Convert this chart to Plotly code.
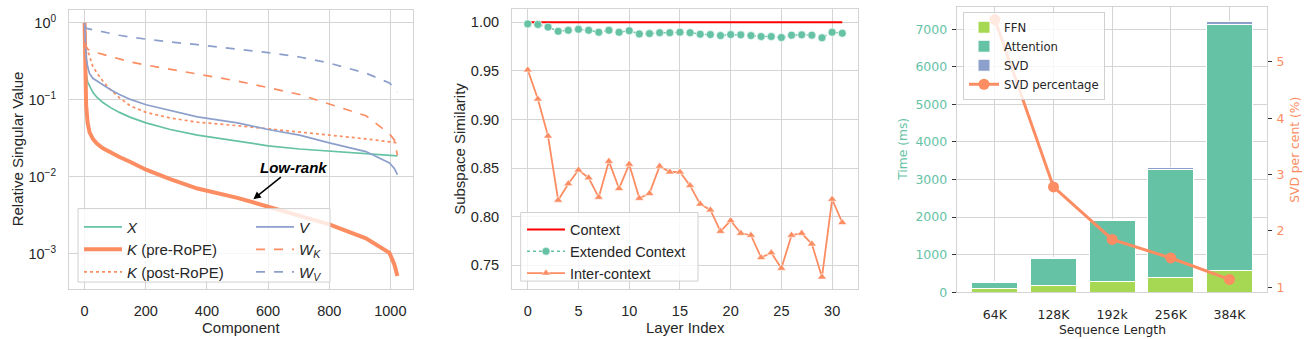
import math
import plotly.graph_objects as go

W, H = 1306, 339

# ---------------- Panel 1: singular value spectra ----------------
comp = [0, 2, 5, 10, 16, 27, 40, 60, 85, 114, 150, 201, 280, 369, 500, 600, 703, 800,
        920, 997, 1013, 1023]
sv_x = [1.0, 0.40, 0.22, 0.17, 0.15, 0.125, 0.108, 0.092, 0.079, 0.0685, 0.059, 0.050,
        0.041, 0.0346, 0.029, 0.0252, 0.0229, 0.0216, 0.0200, 0.0191, 0.0188, 0.0186]
sv_k_pre = [1.0, 0.25, 0.085, 0.050, 0.038, 0.031, 0.027, 0.0234, 0.0205, 0.018, 0.0155,
            0.0123, 0.0093, 0.0070, 0.0053, 0.0041, 0.0031, 0.0024, 0.00158, 0.00102,
            0.00072, 0.00051]
sv_k_post = [1.0, 0.62, 0.50, 0.44, 0.36, 0.27, 0.225, 0.174, 0.135, 0.106, 0.083, 0.0685,
             0.058, 0.051, 0.046, 0.0420, 0.038, 0.035, 0.031, 0.0284, 0.0278, 0.0275]
sv_v = [1.0, 0.55, 0.36, 0.27, 0.22, 0.19, 0.175, 0.157, 0.135, 0.117, 0.101, 0.086,
        0.072, 0.060, 0.050, 0.041, 0.0346, 0.0275, 0.0212, 0.0151, 0.0128, 0.0106]
sv_wk = [0.55, 0.50, 0.48, 0.46, 0.44, 0.42, 0.41, 0.39, 0.365, 0.34, 0.31, 0.283,
         0.25, 0.215, 0.175, 0.144, 0.117, 0.088, 0.062, 0.036, 0.030, 0.019]
sv_wv = [0.92, 0.88, 0.86, 0.84, 0.83, 0.81, 0.79, 0.76, 0.725, 0.69, 0.65, 0.61,
         0.565, 0.52, 0.46, 0.41, 0.36, 0.30, 0.222, 0.165, 0.145, 0.126]
sv_ticks = [1, 0.1, 0.01, 0.001]
sv_ticktext = ["10<sup>0</sup>", "10<sup>\u22121</sup>", "10<sup>\u22122</sup>", "10<sup>\u22123</sup>"]
lowrank_comp, lowrank_val = 552, 0.0051

# ---------------- Panel 2: subspace similarity per layer ----------------
layers = list(range(32))
sim_context = [1.00, 1.00, 1.00, 1.00, 1.00, 1.00, 1.00, 1.00, 1.00, 1.00, 1.00, 1.00,
               1.00, 1.00, 1.00, 1.00, 1.00, 1.00, 1.00, 1.00, 1.00, 1.00, 1.00, 1.00,
               1.00, 1.00, 1.00, 1.00, 1.00, 1.00, 1.00, 1.00]
sim_extended = [0.9983, 0.9977, 0.9950, 0.9907, 0.9917, 0.9927, 0.9917, 0.9897, 0.9917, 0.9897,
                0.9913, 0.9880, 0.9883, 0.9893, 0.9893, 0.9897, 0.9893, 0.9877, 0.9873, 0.9863,
                0.9873, 0.9870, 0.9863, 0.9853, 0.9853, 0.9843, 0.9867, 0.9870, 0.9867, 0.9840,
                0.9897, 0.9887]
sim_inter = [0.951, 0.921, 0.883, 0.817, 0.834, 0.848, 0.840, 0.820, 0.857, 0.829,
             0.854, 0.819, 0.824, 0.852, 0.846, 0.846, 0.832, 0.813, 0.807, 0.785,
             0.796, 0.783, 0.781, 0.758, 0.763, 0.747, 0.781, 0.783, 0.772, 0.738,
             0.818, 0.794]

# ---------------- Panel 3: timing breakdown ----------------
seq_labels = ["64K", "128K", "192k", "256K", "384K"]
ffn_ms = [87, 190, 287, 391, 583]
attn_ms = [174, 705, 1609, 2870, 6547]
svd_ms = [16, 25, 35, 48, 79]
svd_pct = [5.75, 2.78, 1.85, 1.52, 1.14]

TEAL, ORANGE, BLUE, LIME = "#66c2a5", "#fc8d62", "#8da0cb", "#a6d854"
GRID = "#d4d4d4"
FRAME = "#d0d0d0"
TXT = "#262626"
ARIAL = "Liberation Sans, Arial, sans-serif"
DEJAVU = "DejaVu Sans, sans-serif"


def px_x(p):
    return p / W


def px_y(p):
    return 1 - p / H


fig = go.Figure()

# spectra
spectra = [
    ("<i>X</i>", sv_x, dict(color=TEAL, width=1.7), "legend", 1),
    ("<i>K</i> (pre-RoPE)", sv_k_pre, dict(color=ORANGE, width=4), "legend", 2),
    ("<i>K</i> (post-RoPE)", sv_k_post, dict(color=ORANGE, width=1.7, dash="dot"), "legend", 3),
    ("<i>V</i>", sv_v, dict(color=BLUE, width=1.7), "legend4", 1),
    ("<i>W</i><sub><i>K</i></sub>", sv_wk, dict(color=ORANGE, width=1.7, dash="dash"), "legend4", 2),
    ("<i>W</i><sub><i>V</i></sub>", sv_wv, dict(color=BLUE, width=1.7, dash="dash"), "legend4", 3),
]
for name, vals, line, leg, rank in spectra:
    fig.add_trace(go.Scatter(
        x=comp, y=vals, mode="lines", name=name, line=dict(shape="linear", **line),
        xaxis="x", yaxis="y", legend=leg, legendrank=rank,
    ))

# similarity
fig.add_trace(go.Scatter(x=layers, y=sim_context, mode="lines", name="Context",
                         line=dict(color="red", width=2), xaxis="x2", yaxis="y2", legend="legend2"))
fig.add_trace(go.Scatter(x=layers, y=sim_extended, mode="lines+markers", name="Extended Context",
                         line=dict(color=TEAL, width=1.5, dash="dot"),
                         marker=dict(symbol="circle", size=8, color=TEAL, line=dict(color="white", width=0.6)),
                         xaxis="x2", yaxis="y2", legend="legend2"))
fig.add_trace(go.Scatter(x=layers, y=sim_inter, mode="lines+markers", name="Inter-context",
                         line=dict(color=ORANGE, width=1.8),
                         marker=dict(symbol="triangle-up", size=8, color=ORANGE, line=dict(color="white", width=0.6)),
                         xaxis="x2", yaxis="y2", legend="legend2"))

# timing
for name, vals, col in [("FFN", ffn_ms, LIME), ("Attention", attn_ms, TEAL), ("SVD", svd_ms, BLUE)]:
    fig.add_trace(go.Bar(x=seq_labels, y=vals, name=name, width=0.78,
                         marker=dict(color=col, line=dict(color="white", width=1)),
                         xaxis="x3", yaxis="y3", legend="legend3"))
fig.add_trace(go.Scatter(x=seq_labels, y=svd_pct, mode="lines+markers", name="SVD percentage",
                         line=dict(color=ORANGE, width=3),
                         marker=dict(size=11, color=ORANGE),
                         xaxis="x3", yaxis="y4", legend="legend3"))

common = dict(showgrid=True, gridcolor=GRID, gridwidth=1, zeroline=False,
              showline=True, linecolor=GRID, linewidth=1, mirror=True)

fig.update_layout(
    width=W, height=H, margin=dict(l=0, r=0, t=0, b=0),
    paper_bgcolor="white", plot_bgcolor="white",
    barmode="stack", bargap=0.22,
    font=dict(family=ARIAL, color=TXT, size=14),
    xaxis=dict(domain=[px_x(69), px_x(413)], range=[-51, 1074], anchor="y",
               tickvals=[0, 200, 400, 600, 800, 1000], ticks="", ticklabelstandoff=9,
               tickfont=dict(size=14.5, color=TXT), **common),
    yaxis=dict(domain=[px_y(295), px_y(10)], type="log", range=[-3.46, 0.17], anchor="x",
               tickvals=sv_ticks, ticktext=sv_ticktext, ticks="", ticklabelstandoff=9,
               tickfont=dict(size=14.5, color=TXT), **common),
    xaxis2=dict(domain=[px_x(512), px_x(858)], range=[-1.55, 32.55], anchor="y2",
                tickvals=[0, 5, 10, 15, 20, 25, 30], ticks="", ticklabelstandoff=9,
                tickfont=dict(size=14.5, color=TXT), **common),
    yaxis2=dict(domain=[px_y(295), px_y(9)], range=[0.7258, 1.0138], anchor="x2",
                tickvals=[0.75, 0.80, 0.85, 0.90, 0.95, 1.00], tickformat=".2f",
                ticks="", ticklabelstandoff=9, tickfont=dict(size=14.5, color=TXT), **common),
    xaxis3=dict(domain=[px_x(956.7), px_x(1267)], range=[-0.65, 4.64], anchor="y3",
                type="category", ticks="", ticklabelstandoff=11,
                tickfont=dict(family=DEJAVU, size=12.5, color=TXT), **common),
    yaxis3=dict(domain=[px_y(298.3), px_y(7.3)], range=[0, 7590], anchor="x3",
                tickvals=[0, 1000, 2000, 3000, 4000, 5000, 6000, 7000],
                ticks="outside", ticklen=4, tickcolor="#333333", tickwidth=1, ticklabelstandoff=2,
                tickfont=dict(family=DEJAVU, size=12.5, color=TEAL), **common),
    yaxis4=dict(range=[0.914, 5.97], overlaying="y3", side="right", anchor="x3",
                tickvals=[1, 2, 3, 4, 5], showgrid=False, zeroline=False,
                showline=True, linecolor=GRID, linewidth=1,
                ticks="outside", ticklen=4, tickcolor="#333333", tickwidth=1, ticklabelstandoff=2,
                tickfont=dict(family=DEJAVU, size=12.5, color=ORANGE)),
    legend=dict(x=px_x(79), y=px_y(215), xanchor="left", yanchor="top", bgcolor="rgba(0,0,0,0)",
                borderwidth=0, font=dict(size=15, color=TXT), itemwidth=38, traceorder="normal"),
    legend4=dict(x=px_x(251), y=px_y(215), xanchor="left", yanchor="top", bgcolor="rgba(0,0,0,0)",
                 borderwidth=0, font=dict(size=15, color=TXT), itemwidth=38, traceorder="normal"),
    legend2=dict(x=px_x(522), y=px_y(218), xanchor="left", yanchor="top", bgcolor="rgba(0,0,0,0)",
                 borderwidth=0, font=dict(size=14.5, color=TXT), itemwidth=38, traceorder="normal"),
    legend3=dict(x=px_x(963), y=px_y(12), xanchor="left", yanchor="top",
                 bgcolor="rgba(255,255,255,0.8)", bordercolor=FRAME, borderwidth=1,
                 font=dict(family=DEJAVU, size=11.7, color=TXT), itemwidth=30,
                 traceorder="normal"),
)

# legend frames for the two left-hand panels
for x0, y0, x1, y1 in [(78, 213, 330, 288), (520.7, 217, 698, 287)]:
    fig.add_shape(type="rect", xref="paper", yref="paper",
                  x0=px_x(x0), x1=px_x(x1), y0=px_y(y1), y1=px_y(y0),
                  fillcolor="rgba(255,255,255,0.8)", line=dict(color=FRAME, width=1), layer="above")

# axis titles
titles = [
    ("Component", 241, 334, 0, ARIAL, 15, TXT),
    ("Relative Singular Value", 17, 152.5, -90, ARIAL, 15, TXT),
    ("Layer Index", 685, 334, 0, ARIAL, 15, TXT),
    ("Subspace Similarity", 460, 152, -90, ARIAL, 15, TXT),
    ("Sequence Length", 1112, 337, 0, DEJAVU, 12.3, TXT),
    ("Time (ms)", 903, 153, -90, DEJAVU, 12.3, TEAL),
    ("SVD per cent (%)", 1295, 153, -90, DEJAVU, 12.3, ORANGE),
]
for text, x, y, ang, fam, size, col in titles:
    fig.add_annotation(text=text, xref="paper", yref="paper", x=px_x(x), y=px_y(y),
                       xanchor="center", yanchor="middle", showarrow=False, textangle=ang,
                       font=dict(family=fam, size=size, color=col))

# low-rank callout
fig.add_annotation(text="<b><i>Low-rank</i></b>", xref="x", yref="y",
                   x=lowrank_comp, y=math.log10(lowrank_val),
                   ax=40, ay=-32, showarrow=True, arrowhead=2, arrowsize=1, arrowwidth=1.5,
                   arrowcolor="black", font=dict(size=15, color="black"))

fig.write_html("out.html")
